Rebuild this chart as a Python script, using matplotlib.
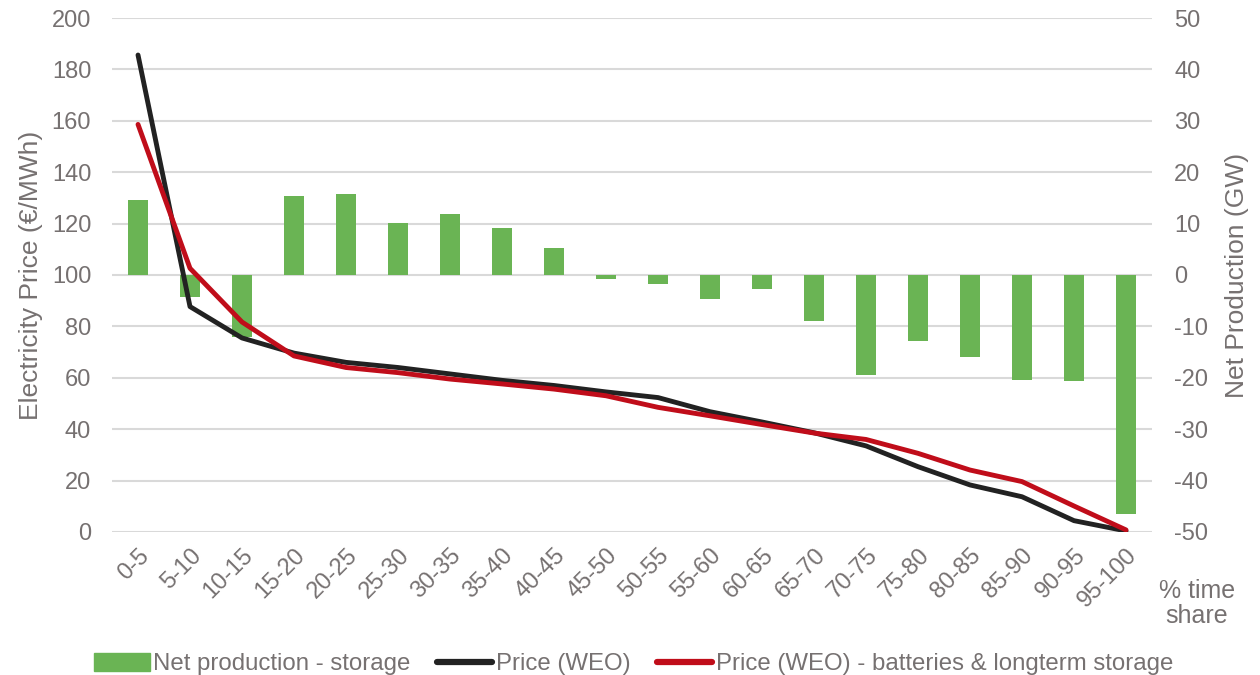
import numpy as np
import matplotlib.pyplot as plt
from matplotlib.patches import Patch
from matplotlib.lines import Line2D

plt.rcParams['font.family'] = ['Liberation Sans', 'DejaVu Sans']
plt.rcParams['axes.unicode_minus'] = False

# Zeitanteile (% time share)
categories = ['0-5', '5-10', '10-15', '15-20', '20-25', '25-30', '30-35', '35-40',
              '40-45', '45-50', '50-55', '55-60', '60-65', '65-70', '70-75', '75-80',
              '80-85', '85-90', '90-95', '95-100']

# Nettoproduktion - Speicher (GW, rechte Achse)
net_production = [14.6, -4.2, -12.0, 15.4, 15.8, 10.2, 11.8, 9.1, 5.3, -0.8,
                  -1.75, -4.7, -2.8, -8.9, -19.5, -12.8, -16.0, -20.5, -20.6, -46.5]

# Strompreis (€/MWh, linke Achse)
price_weo = [185.6, 87.7, 75.5, 69.6, 66.0, 64.0, 61.5, 59.0, 57.0, 54.5,
             52.3, 46.8, 42.8, 38.6, 33.5, 25.4, 18.3, 13.7, 4.4, 0.4]
price_weo_storage = [158.6, 102.6, 81.7, 68.5, 64.0, 62.0, 59.5, 57.6, 55.6, 53.0,
                     48.5, 45.2, 41.8, 38.5, 36.0, 30.6, 24.1, 19.6, 10.1, 0.8]

green = '#6AB454'
black = '#222222'
red = '#C00D1A'
grey = '#767171'
grid = '#D9D9D9'

fig = plt.figure(figsize=(12.6, 6.75), dpi=100)
ax = fig.add_axes([0.0889, 0.2119, 0.8254, 0.7614])
ax2 = ax.twinx()

x = np.arange(len(categories))

# Balken auf der rechten Achse, hinter den Linien
ax2.bar(x, net_production, width=0.4, color=green, zorder=2)
ax2.set_ylim(-50, 50)
ax2.set_yticks(np.arange(-50, 51, 10))

ax.plot(x, price_weo, color=black, lw=3.5, solid_capstyle='round', zorder=3)
ax.plot(x, price_weo_storage, color=red, lw=3.5, solid_capstyle='round', zorder=3)
ax.set_ylim(0, 200)
ax.set_yticks(np.arange(0, 201, 20))
ax.set_xlim(-0.5, len(categories) - 0.5)
ax.set_xticks(x)
ax.set_xticklabels(categories, rotation=45, ha='right', rotation_mode='anchor')

# Linien vor die Balken legen
ax.set_zorder(ax2.get_zorder() + 1)
ax.patch.set_visible(False)

for a in (ax, ax2):
    for s in a.spines.values():
        s.set_visible(False)
    a.tick_params(length=0, labelsize=17, colors=grey)
ax.tick_params(axis='y', pad=15)
ax2.tick_params(axis='y', pad=16)
ax.tick_params(axis='x', pad=9)

ax2.grid(axis='y', color=grid, lw=1.5, zorder=0)
ax2.set_axisbelow(True)

ax.set_ylabel('Electricity Price (€/MWh)', fontsize=19, color=grey, labelpad=6)
ax2.set_ylabel('Net Production (GW)', fontsize=19, color=grey, labelpad=12)

fig.text(0.950, 0.106, '% time\nshare', fontsize=18, color=grey, ha='center',
         va='center', linespacing=1.05)

handles = [Patch(color=green), Line2D([], [], color=black, lw=4.5, solid_capstyle='round'),
           Line2D([], [], color=red, lw=4.5, solid_capstyle='round')]
labels = ['Net production - storage', 'Price (WEO)',
          'Price (WEO) - batteries & longterm storage']
leg = fig.legend(handles, labels, loc='center', bbox_to_anchor=(0.503, 0.016), ncol=3,
                 frameon=False, fontsize=17.3, handlelength=2.3, handletextpad=0.15,
                 columnspacing=1.1, handleheight=0.75)
for t in leg.get_texts():
    t.set_color(grey)

fig.savefig('out.png', dpi=100)
